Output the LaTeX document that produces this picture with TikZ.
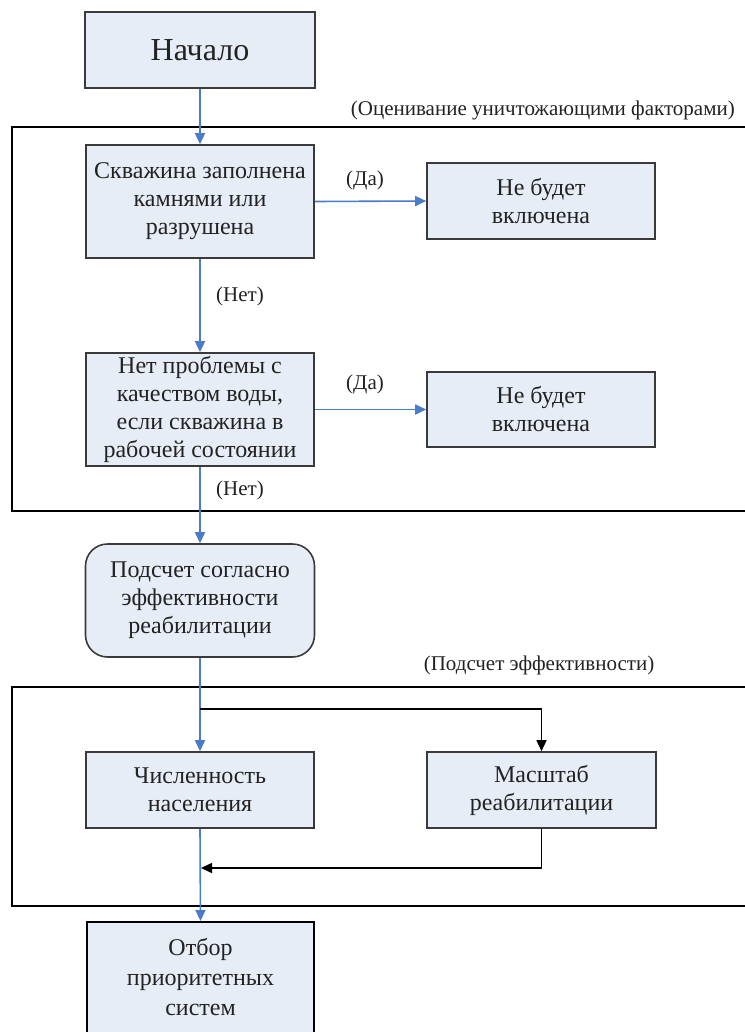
\documentclass[tikz,border=0pt]{standalone}
\usepackage{fontspec}
\setmainfont{Liberation Serif}
\newfontfamily\tnr{Liberation Serif}
\usetikzlibrary{arrows.meta}
\definecolor{boxfill}{HTML}{E7EDF7}
\definecolor{boxline}{HTML}{3A3A3A}
\definecolor{flowblue}{HTML}{4A7CC7}
\definecolor{txt}{HTML}{222222}
\begin{document}
\begin{tikzpicture}[x=1pt,y=-1pt,
  procbox/.style={draw=boxline, line width=1.6pt, fill=boxfill, text=txt,
    align=center, inner sep=2pt, font=\tnr\fontsize{24}{28}\selectfont},
  startbox/.style={procbox, font=\tnr\fontsize{32}{36}\selectfont},
  roundbox/.style={procbox, rounded corners=22pt},
  finalbox/.style={draw=black, line width=2.2pt, fill=boxfill},
  frame/.style={draw=black, line width=2.4pt},
  lbl/.style={text=txt, font=\tnr\fontsize{21}{24}\selectfont, inner sep=0pt},
  bluearrow/.style={draw=flowblue, line width=1.6pt, -{Triangle[length=11pt,width=10pt]}},
  blackarrow/.style={draw=black, line width=1.5pt, -{Triangle[length=11pt,width=10pt]}}
]
\useasboundingbox (0,0) rectangle (744,1032);
\fill[white] (0,0) rectangle (744,1032);

% frames
\draw[frame] (760,127) -- (12,127) -- (12,511) -- (760,511);
\draw[frame] (760,687) -- (12,687) -- (12,906) -- (760,906);

% labels of frames
\node[lbl, anchor=east] (lab1) at (735,110) {(Оценивание уничтожающими факторами)};
\node[lbl] (lab2) at (539,665) {(Подсчет эффективности)};

% nodes
\node[startbox, minimum width=230, minimum height=76] (S) at (200,50) {Начало};
\node[procbox, minimum width=228, minimum height=113] (A) at (200,201.5)
  {Скважина заполнена\\камнями или\\разрушена};
\node[procbox, minimum width=228, minimum height=76] (N1) at (541,201)
  {Не будет\\включена};
\node[procbox, minimum width=228, minimum height=113] (B) at (200,409.5)
  {Нет проблемы с\\качеством воды,\\если скважина в\\рабочей состоянии};
\node[procbox, minimum width=228, minimum height=75] (N2) at (541,409.5)
  {Не будет\\включена};
\node[roundbox, minimum width=229, minimum height=113] (R) at (200,600.5)
  {Подсчет согласно\\эффективности\\реабилитации};
\node[procbox, minimum width=228, minimum height=76] (P) at (200,790)
  {Численность\\населения};
\node[procbox, minimum width=229, minimum height=76] (M) at (541.5,790)
  {Масштаб\\реабилитации};
\node[finalbox, minimum width=227, minimum height=130, anchor=north] (F) at (200.5,921) {};
\node[text=txt, align=center, inner sep=0pt, font=\tnr\fontsize{24}{30}\selectfont] (Ft) at (200.5,977)
  {Отбор\\приоритетных\\систем};

% edge labels
\node[lbl] (da1) at (365,180) {(Да)};
\node[lbl] (net1) at (240,296) {(Нет)};
\node[lbl] (da2) at (365,384) {(Да)};
\node[lbl] (net2) at (240,490) {(Нет)};

% connectors
\coordinate (br) at (200,709);
\coordinate (ret) at (201,868);
\draw[bluearrow] (S.south) -- (A.north);
\draw[bluearrow] (A.east) -- (N1.west);
\draw[bluearrow] (A.south) -- (B.north);
\draw[bluearrow] (B.east) -- (N2.west);
\draw[bluearrow] (B.south) -- (R.north);
\draw[bluearrow] (R.south) -- (P.north);
\draw[bluearrow] (P.south) -- (F.north);
\draw[blackarrow] (br) -| (M.north);
\draw[blackarrow] (M.south) |- (ret);
\end{tikzpicture}
\end{document}
